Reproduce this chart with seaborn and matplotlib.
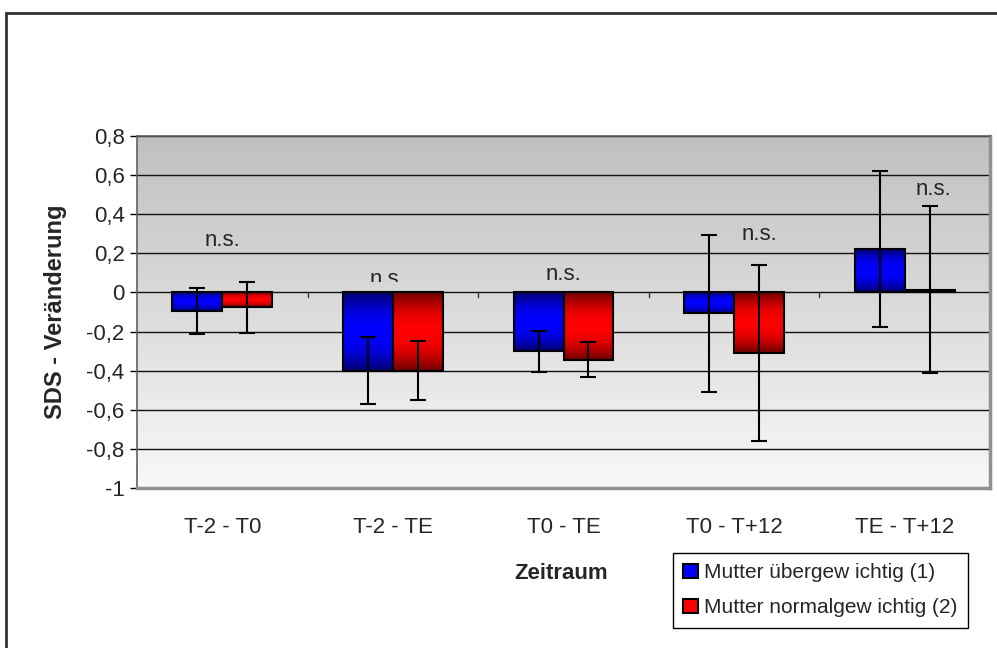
import numpy as np
import pandas as pd
import matplotlib
matplotlib.use('Agg')
import matplotlib.pyplot as plt
import seaborn as sns
from matplotlib.patches import Rectangle, Patch
from matplotlib.colors import LinearSegmentedColormap
from matplotlib.ticker import FuncFormatter
from matplotlib.transforms import Bbox, TransformedBbox

# Daten
zeitraum = ['T-2 - T0', 'T-2 - TE', 'T0 - TE', 'T0 - T+12', 'TE - T+12']
gruppen = ['Mutter übergew ichtig (1)', 'Mutter normalgew ichtig (2)']
ueber = [-0.095, -0.40, -0.30, -0.107, 0.222]
ueber_err = [0.12, 0.17, 0.105, 0.40, 0.40]
normal = [-0.075, -0.40, -0.343, -0.31, 0.015]
normal_err = [0.13, 0.15, 0.09, 0.45, 0.425]
ns_x = [0.0, 0.97, 2.0, 3.15, 4.17]
ns_y = [0.24, 0.036, 0.066, 0.27, 0.50]

df = pd.DataFrame({
    'Zeitraum': zeitraum * 2,
    'Gruppe': [gruppen[0]] * 5 + [gruppen[1]] * 5,
    'SDS': ueber + normal,
})

sns.set_style('white')
plt.rcParams['font.family'] = ['Liberation Sans', 'DejaVu Sans']
plt.rcParams['font.size'] = 16

fig = plt.figure(figsize=(9.97, 6.48), dpi=100)
ax = fig.add_axes([137 / 997, 1 - 488 / 648, 853 / 997, 352 / 648])

# Hintergrund-Verlauf
bg = np.linspace(0, 1, 256).reshape(-1, 1)
bg_cmap = LinearSegmentedColormap.from_list('bg', ['#f8f8f8', '#c0c0c0'])
ax.imshow(bg, extent=[0, 1, 0, 1], transform=ax.transAxes, aspect='auto',
          cmap=bg_cmap, origin='lower', zorder=0)

sns.barplot(data=df, x='Zeitraum', y='SDS', hue='Gruppe', order=zeitraum,
            hue_order=gruppen, palette=['#0000ff', '#ff0000'], width=0.586,
            errorbar=None, edgecolor='black', linewidth=1.5, ax=ax, legend=False)

# Balken mit Verlauf
t = np.linspace(0, 1, 200)
prof = 1 - np.abs(2 * t - 1) ** 2.0
prof = prof.reshape(-1, 1)
cmaps = [LinearSegmentedColormap.from_list('b', ['#000068', '#0000ff']),
         LinearSegmentedColormap.from_list('r', ['#680000', '#ff0000'])]
bars = [p for p in ax.patches if isinstance(p, Rectangle)]
n = len(zeitraum)
for i, p in enumerate(bars[:2 * n]):
    x0, y0 = p.get_x(), p.get_y()
    w, h = p.get_width(), p.get_height()
    im = ax.imshow(prof, extent=[x0, x0 + w, min(y0, y0 + h), max(y0, y0 + h)],
                   aspect='auto', cmap=cmaps[i // n], vmin=0, vmax=1,
                   origin='lower', zorder=1)
    im.set_clip_path(p)
    p.set_facecolor('none')
    p.set_zorder(2)

# Fehlerbalken
for j, (vals, errs) in enumerate([(ueber, ueber_err), (normal, normal_err)]):
    xs = [b.get_x() + b.get_width() / 2 for b in bars[j * n:(j + 1) * n]]
    ax.errorbar(xs, vals, yerr=errs, fmt='none', ecolor='black', elinewidth=1.5,
                capsize=5.5, capthick=1.5, zorder=3)

# n.s.
for k, (x, y) in enumerate(zip(ns_x, ns_y)):
    txt = ax.text(x, y, 'n.s.', ha='center', va='baseline', fontsize=16, zorder=1.5)
    if k == 1:
        txt.set_clip_on(True)
        txt.set_clip_box(TransformedBbox(Bbox([[0.5, 0.052], [1.5, 0.8]]), ax.transData))

# Kategorie-Striche auf der Nulllinie
for b in np.arange(0.5, n - 0.5, 1):
    ax.plot([b, b], [0, -0.025], color='#333333', lw=1, zorder=2)

ax.set_xlim(-0.5, n - 0.5)
ax.set_ylim(-1, 0.8)
ax.set_yticks(np.round(np.arange(-1, 0.81, 0.2), 1))
ax.yaxis.set_major_formatter(FuncFormatter(
    lambda v, _: '0' if abs(v) < 1e-9 else ('%g' % round(v, 1)).replace('.', ',')))
ax.set_axisbelow(True)
ax.yaxis.grid(True, color='#111111', lw=1)
ax.xaxis.grid(False)
ax.tick_params(axis='y', length=5, width=1, color='black', pad=4, labelsize=16,
               left=True, direction='out')
ax.tick_params(axis='x', length=0, pad=21, labelsize=16)

for s in ['top', 'left']:
    ax.spines[s].set_color('#606060')
    ax.spines[s].set_linewidth(1.2)
for s in ['right', 'bottom']:
    ax.spines[s].set_color('#909090')
    ax.spines[s].set_linewidth(2.5)

ax.set_ylabel('SDS - Veränderung', fontsize=17, fontweight='bold')
ax.yaxis.set_label_coords(-0.082, 0.5)
ax.set_xlabel('Zeitraum', fontsize=16, fontweight='bold')
ax.xaxis.set_label_coords(0.497, -0.213)

handles = [Patch(facecolor='#0000ff', edgecolor='black', lw=1.5),
           Patch(facecolor='#ff0000', edgecolor='black', lw=1.5)]
fig.legend(handles, gruppen, loc='upper left',
           bbox_to_anchor=(673 / 997, 1 - 553 / 648), fancybox=False,
           edgecolor='black', framealpha=1, fontsize=15, handlelength=0.7,
           handleheight=0.7, handletextpad=0.3, borderpad=0.49,
           labelspacing=0.78, borderaxespad=0)

# äußerer Rahmen
fig.patches.append(Rectangle((6 / 997, -0.05), 1.1, 1 - 13 / 648 + 0.05,
                             transform=fig.transFigure, fill=False,
                             edgecolor='#333333', lw=2))

fig.savefig('out.png', dpi=100)
